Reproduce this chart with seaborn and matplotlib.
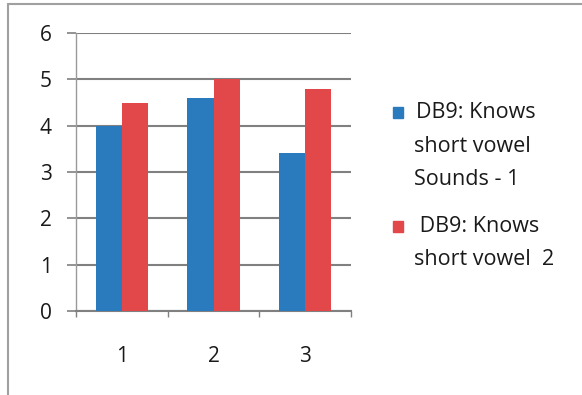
import matplotlib
matplotlib.use("Agg")
import matplotlib.pyplot as plt
from matplotlib.lines import Line2D
from matplotlib.patches import Rectangle
import seaborn as sns
import pandas as pd

# Survey scores for the short-vowel item, two rounds per group
groups = ["1", "2", "3"]
round1 = [4.0, 4.6, 3.4]
round2 = [4.5, 5.0, 4.8]
series_names = ["DB9: Knows short vowel Sounds - 1", "DB9: Knows short vowel  2"]
yticks = [0, 1, 2, 3, 4, 5, 6]

blue = "#2a7bbd"
red = "#e2474a"
grid_col = "#808080"
text_col = "#1a1a1a"

df = pd.DataFrame({
    "group": groups * 2,
    "score": round1 + round2,
    "series": [series_names[0]] * 3 + [series_names[1]] * 3,
})

sns.set_theme(style="white")
plt.rcParams["font.family"] = ["Open Sans", "DejaVu Sans"]

W, H = 582, 395
fig = plt.figure(figsize=(W / 100, H / 100), dpi=100)
ax = fig.add_axes([76 / W, 1 - 311 / H, (351 - 76) / W, (311 - 33) / H])

sns.barplot(data=df, x="group", y="score", hue="series", order=groups,
            hue_order=series_names, palette=[blue, red], width=0.57,
            saturation=1, legend=False, linewidth=0, ax=ax, zorder=3)

ax.set_xlim(-0.5, 2.5)
ax.set_ylim(0, 6)
ax.set_yticks(yticks)
ax.set_yticklabels([str(v) for v in yticks])
ax.set_xlabel("")
ax.set_ylabel("")

# horizontal gridlines behind the bars
for v in yticks:
    ax.axhline(v, color=grid_col, lw=1.5, zorder=1)

for s in ["top", "right"]:
    ax.spines[s].set_visible(False)
ax.spines["left"].set_color("#9a9a9a")
ax.spines["left"].set_linewidth(1.0)
ax.spines["bottom"].set_color(grid_col)
ax.spines["bottom"].set_linewidth(1.5)

fs = 15
ax.tick_params(axis="y", length=6.5, width=1.2, color=grid_col, pad=11,
               labelsize=fs, labelcolor=text_col, left=True)
ax.set_xticks([0, 1, 2])
ax.set_xticks([-0.5, 0.5, 1.5, 2.5], minor=True)
ax.tick_params(axis="x", which="major", length=0, pad=25, labelsize=fs,
               labelcolor=text_col)
ax.tick_params(axis="x", which="minor", length=4.5, width=1.0,
               color=grid_col, bottom=True)

# legend drawn as swatches plus lines of text
def fx(px):
    return px / W

def fy(py):
    return 1 - py / H

fig.patches.append(Rectangle((fx(393), fy(118)), 10 / W, 11 / H,
                             transform=fig.transFigure, color=blue))
fig.patches.append(Rectangle((fx(393), fy(232)), 10 / W, 11 / H,
                             transform=fig.transFigure, color=red))
legend_lines = [
    ("DB9: Knows", 416, 118),
    ("short vowel", 414, 152),
    ("Sounds - 1", 414, 185),
    (" DB9: Knows", 414, 232),
    ("short vowel  2", 414, 265),
]
for txt, x, y in legend_lines:
    fig.text(fx(x), fy(y), txt, fontsize=15.5, color=text_col,
             ha="left", va="baseline")

# chart frame
fig.add_artist(Line2D([fx(8), fx(582)], [fy(4), fy(4)],
                      transform=fig.transFigure, color="#a0a0a0", lw=1.5))
fig.add_artist(Line2D([fx(8), fx(8)], [fy(4), fy(395)],
                      transform=fig.transFigure, color="#a0a0a0", lw=1.5))

fig.savefig("out.png", dpi=100)
